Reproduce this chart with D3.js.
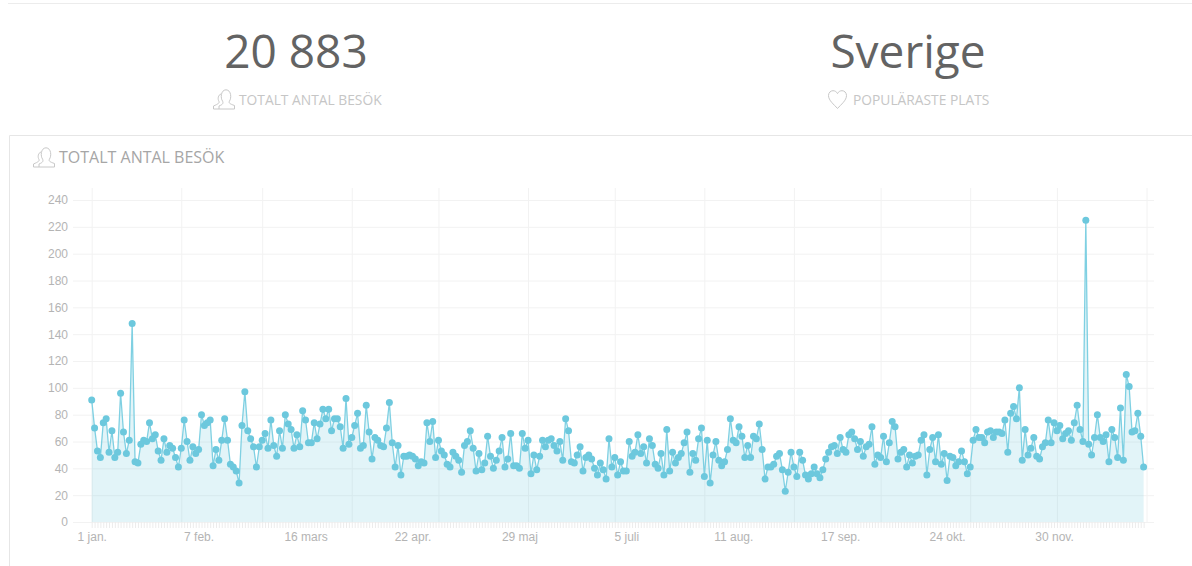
<!DOCTYPE html>
<html>
<head>
<meta charset="utf-8">
<script src="https://d3js.org/d3.v7.min.js"></script>
<style>
  html, body { margin: 0; padding: 0; background: #fff; overflow: hidden; }
  svg { display: block; }
  .axis text { font-family: "Liberation Sans", Arial, sans-serif; font-size: 12px; fill: #b4b4b4; }
  .axis path.domain { display: none; }
  .big { font-family: "Open Sans", sans-serif; font-weight: 400; font-size: 46px; fill: #636363; text-anchor: middle; }
  .sub { font-family: "Open Sans", sans-serif; font-weight: 400; font-size: 13.8px; fill: #c6c6c6; }
  .title { font-family: "Open Sans", sans-serif; font-weight: 400; font-size: 16px; fill: #a6a6a6; }
  .icon { fill: none; stroke: #c8c8c8; stroke-width: 1; }
</style>
</head>
<body>
<div id="chart"></div>
<script>
// visits per day, 1 jan. to 31 dec.
var visits = [
  91,70,53,48,74,77,52,68,48,52,96,67,51,61,148,45,44,58,61,60,74,62,65,53,46,62,52,57,55,48,
  41,55,76,60,46,56,51,54,80,72,74,76,42,54,46,61,77,61,43,41,38,29,72,97,68,62,56,41,56,61,
  66,55,76,57,49,68,55,80,73,69,55,65,56,83,76,59,59,74,62,73,84,77,84,68,77,77,71,55,92,58,
  63,72,81,55,57,87,67,47,63,61,57,56,70,89,59,41,57,35,49,49,50,49,47,42,45,44,74,60,75,48,
  61,53,50,43,41,52,49,46,37,57,60,68,55,38,51,39,44,64,49,40,46,53,63,41,47,66,42,42,40,66,
  55,61,36,50,39,49,61,56,61,62,57,53,60,46,77,68,45,44,50,56,38,48,50,47,40,35,44,39,32,62,
  41,48,35,45,38,38,60,49,52,65,51,56,44,62,57,43,40,51,35,69,38,52,44,48,51,59,67,37,51,46,
  62,70,34,61,29,50,60,46,42,45,54,77,61,59,71,64,48,57,48,64,62,73,54,32,41,41,43,49,51,39,
  23,37,52,41,34,52,46,35,32,36,41,36,33,39,47,52,56,57,51,63,54,52,65,67,62,54,60,49,56,58,
  71,43,50,48,64,45,59,75,71,47,52,54,41,50,44,49,50,61,65,35,54,63,45,65,43,51,31,49,48,42,
  45,53,45,36,41,61,69,63,63,59,67,68,63,67,67,66,76,52,81,86,77,100,46,69,50,55,63,49,47,56,
  59,76,59,74,68,72,62,66,68,61,74,87,69,60,225,58,50,63,80,63,60,65,45,69,63,48,85,46,110,101,
  67,68,81,64,41
];

var yTicks = [0,20,40,60,80,100,120,140,160,180,200,220,240];

// labelled days, counted from 1 jan.
var labelDays = [0,37,74,111,148,185,222,259,296,333];
var labelNames = ["1 jan.","7 feb.","16 mars","22 apr.","29 maj","5 juli","11 aug.","17 sep.","24 okt.","30 nov."];

// first day of each month, these carry the vertical grid lines
var monthDays = [0,31,59,90,120,151,181,212,243,273,304,334,365];

var svg = d3.select("#chart")
  .append("svg")
    .attr("width", 1192)
    .attr("height", 566);

// header lines and chart panel
svg.append("line")
  .attr("x1", 8).attr("x2", 1192).attr("y1", 3.5).attr("y2", 3.5)
  .style("stroke", "#ececec");
svg.append("path")
  .attr("d", "M9.5,566V135.5H1192")
  .style("fill", "none")
  .style("stroke", "#e6e6e6");

// user icon, one person in front of another
function userIcon(x, y) {
  var g = svg.append("g").attr("class", "icon").attr("transform", "translate(" + x + "," + y + ")");
  g.append("path").attr("d", "M9.5,12C7.5,9.5 7.5,1 13,0.8C18.5,1 18.5,9.5 16.5,12C15.5,14 16.5,14.8 21.5,16.5V20H6V17C10,15.5 10.5,14 9.5,12Z");
  g.append("path").attr("d", "M8,5C5,6 4.5,10 6,12.5C6.5,14 5.5,14.8 0.5,17V20H6");
}

// top left number
svg.append("text").attr("class", "big").attr("x", 296).attr("y", 68).text("20 883");
userIcon(213, 89);
svg.append("text").attr("class", "sub").attr("x", 239).attr("y", 105).text("TOTALT ANTAL BESÖK");

// top right number
svg.append("text").attr("class", "big").attr("x", 908).attr("y", 68).text("Sverige");
svg.append("path")
  .attr("class", "icon")
  .attr("transform", "translate(828,90)")
  .attr("d", "M9.5,18.5C6,14.5 0.5,10.5 0.5,5.5C0.5,2.5 2.8,0.7 5,0.7C7,0.7 8.6,1.8 9.5,3.6C10.4,1.8 12,0.7 14,0.7C16.2,0.7 18.5,2.5 18.5,5.5C18.5,10.5 13,14.5 9.5,18.5Z");
svg.append("text").attr("class", "sub").attr("x", 853).attr("y", 105).text("POPULÄRASTE PLATS");

// panel title
userIcon(33, 147);
svg.append("text").attr("class", "title").attr("x", 59).attr("y", 162.5).text("TOTALT ANTAL BESÖK");

// scales
var x = d3.scaleLinear()
  .domain([0, 365])
  .range([91.7, 1146.5]);

var y = d3.scaleLinear()
  .domain([0, 240])
  .range([522, 200]);

// Y axis with the horizontal grid
var yAxis = svg.append("g")
  .attr("class", "axis")
  .attr("transform", "translate(73,0)")
  .call(d3.axisLeft(y).tickValues(yTicks).tickSize(-1081).tickPadding(5));
yAxis.selectAll("line").style("stroke", "#f2f2f2");

// vertical grid on month starts
var monthAxis = svg.append("g")
  .attr("class", "axis")
  .attr("transform", "translate(0,522)")
  .call(d3.axisBottom(x).tickValues(monthDays).tickSize(-334).tickFormat(""));
monthAxis.selectAll("line").style("stroke", "#f2f2f2");

// one small tick per day
var dayAxis = svg.append("g")
  .attr("class", "axis")
  .attr("transform", "translate(0,522)")
  .call(d3.axisBottom(x).tickValues(d3.range(visits.length)).tickSize(6).tickFormat(""));
dayAxis.selectAll("line").style("stroke", "#ececec");

// date labels
svg.append("g")
  .attr("class", "axis")
  .attr("transform", "translate(0,522)")
  .call(d3.axisBottom(x)
    .tickValues(labelDays)
    .tickSize(0)
    .tickPadding(10)
    .tickFormat(function(d) { return labelNames[labelDays.indexOf(d)]; }));

// area under the line
svg.append("path")
  .datum(visits)
  .attr("d", d3.area()
    .x(function(d, i) { return x(i); })
    .y0(y(0))
    .y1(function(d) { return y(d); }))
  .style("fill", "#6cc8dd")
  .style("opacity", 0.2);

svg.append("path")
  .datum(visits)
  .attr("d", d3.line()
    .x(function(d, i) { return x(i); })
    .y(function(d) { return y(d); }))
  .style("fill", "none")
  .style("stroke", "#7fd0e2")
  .style("stroke-width", 1.3);

// dots
svg.append("g")
  .selectAll("circle")
  .data(visits)
  .enter()
  .append("circle")
    .attr("cx", function(d, i) { return x(i); })
    .attr("cy", function(d) { return y(d); })
    .attr("r", 3.5)
    .style("fill", "#6cc8dd");
</script>
</body>
</html>
